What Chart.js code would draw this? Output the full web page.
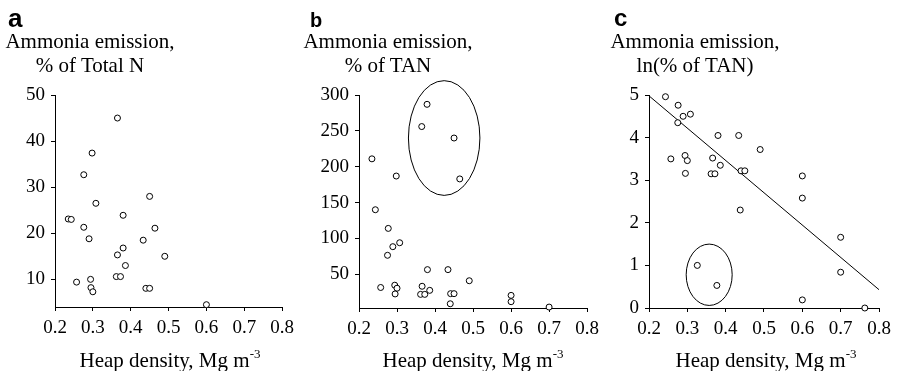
<!DOCTYPE html>
<html>
<head>
<meta charset="utf-8">
<script src="https://cdn.jsdelivr.net/npm/chart.js@4.4.0/dist/chart.umd.min.js"></script>
<style>
  body { margin: 0; background: #fff; }
  #wrap { position: relative; width: 898px; height: 371px; overflow: hidden; color: #000;
          font-family: 'Liberation Serif', 'Times New Roman', serif; }
  canvas { position: absolute; top: 0; }
  .letter { position: absolute; font-family: 'Liberation Sans', Arial, sans-serif; font-weight: bold; line-height: 1; }
  .ytitle { position: absolute; top: 29px; width: 220px; text-align: center; font-size: 21px; line-height: 24px; white-space: nowrap; }
  .xtitle { position: absolute; top: 350px; width: 260px; text-align: center; font-size: 21px; line-height: 20px; white-space: nowrap; }
  .xtitle span { font-size: 13px; vertical-align: 9px; line-height: 0; }
</style>
</head>
<body>
<div id="wrap">
  <canvas id="panelA" width="300" height="371" style="left:0px"></canvas>
  <canvas id="panelB" width="305" height="371" style="left:300px"></canvas>
  <canvas id="panelC" width="300" height="371" style="left:598px"></canvas>

  <div class="letter" style="left:8px; top:5px; font-size:26px">a</div>
  <div class="letter" style="left:310px; top:10px; font-size:20px">b</div>
  <div class="letter" style="left:614px; top:6px; font-size:24px">c</div>

  <div class="ytitle" style="left:-20px">Ammonia emission,<br>% of Total N</div>
  <div class="ytitle" style="left:278px">Ammonia emission,<br>% of TAN</div>
  <div class="ytitle" style="left:585px">Ammonia emission,<br>ln(% of TAN)</div>

  <div class="xtitle" style="left:40px">Heap density, Mg m<span>-3</span></div>
  <div class="xtitle" style="left:343px">Heap density, Mg m<span>-3</span></div>
  <div class="xtitle" style="left:636px">Heap density, Mg m<span>-3</span></div>
</div>
<script>
// heap density (Mg m-3) shared tick labels
const densityTicks = [0.2, 0.3, 0.4, 0.5, 0.6, 0.7, 0.8];

// a: % of total N
const densityA = [0.365, 0.298, 0.276, 0.450, 0.308, 0.235, 0.243, 0.380, 0.276, 0.464, 0.290, 0.433, 0.380,
                  0.365, 0.490, 0.386, 0.362, 0.373, 0.294, 0.257, 0.295, 0.300, 0.440, 0.450, 0.600];
const emissionA = [45.0, 37.4, 32.7, 28.0, 26.5, 23.1, 23.0, 23.9, 21.3, 21.1, 18.8, 18.5, 16.8,
                   15.3, 15.0, 13.0, 10.6, 10.6, 10.0, 9.4, 8.2, 7.3, 8.05, 8.05, 4.5];
const ticksA = [10, 20, 30, 40, 50];

// b: % of TAN
const densityB = [0.379, 0.365, 0.450, 0.234, 0.298, 0.465, 0.243, 0.277, 0.289, 0.307, 0.275, 0.380, 0.434, 0.490,
                  0.257, 0.294, 0.300, 0.295, 0.366, 0.362, 0.373, 0.386, 0.441, 0.450, 0.440, 0.600, 0.600, 0.700];
const emissionB = [287, 256, 240, 211, 187, 183, 140, 114, 88.5, 94, 76.5, 56.5, 56.5, 41,
                   31.6, 34.8, 30.6, 22.6, 33.3, 22, 22, 27.6, 23, 23, 8.9, 20.6, 11.8, 4.3];
const ticksB = [50, 100, 150, 200, 250, 300];
const ringB = { x: 0.424, y: 240, rx: 0.094, ry: 80 };

// c: ln(% of TAN) with fitted line
const densityC = [0.243, 0.276, 0.289, 0.308, 0.275, 0.380, 0.434, 0.490, 0.257, 0.294, 0.300, 0.366, 0.386, 0.295,
                  0.362, 0.372, 0.440, 0.450, 0.600, 0.600, 0.438, 0.700, 0.700, 0.326, 0.377, 0.600, 0.763];
const emissionC = [4.96, 4.76, 4.50, 4.55, 4.35, 4.05, 4.05, 3.72, 3.50, 3.58, 3.46, 3.52, 3.35, 3.16,
                   3.15, 3.15, 3.22, 3.22, 3.10, 2.58, 2.30, 1.66, 0.84, 1.00, 0.53, 0.19, 0.00];
const trendX = [0.2, 0.8];
const trendY = [4.98, 0.43];
const ticksC = [0, 1, 2, 3, 4, 5];
const ringC = { x: 0.357, y: 0.78, rx: 0.06, ry: 0.72 };

Chart.defaults.font.family = "'Liberation Serif', 'Times New Roman', serif";
Chart.defaults.color = '#000';

const toPoints = (xs, ys) => xs.map((x, i) => ({ x, y: ys[i] }));

// hand-drawn style ellipse round a group of points
const ringPlugin = {
    id: 'ringMark',
    afterDatasetsDraw(chart, args, options) {
        if (!options || options.x === undefined) return;
        const { ctx, scales: { x, y } } = chart;
        const cx = x.getPixelForValue(options.x);
        const cy = y.getPixelForValue(options.y);
        const rx = Math.abs(x.getPixelForValue(options.x + options.rx) - cx);
        const ry = Math.abs(y.getPixelForValue(options.y + options.ry) - cy);
        ctx.save();
        ctx.beginPath();
        ctx.ellipse(cx, cy, rx, ry, 0, 0, Math.PI * 2);
        ctx.strokeStyle = '#000';
        ctx.lineWidth = 1;
        ctx.stroke();
        ctx.restore();
    }
};

function scatterPanel(canvasId, cfg) {
    const datasets = [{
        data: toPoints(cfg.xs, cfg.ys),
        pointRadius: 3,
        pointBorderWidth: 1,
        pointBorderColor: '#000',
        pointBackgroundColor: '#fff',
        clip: false
    }];
    if (cfg.trend) {
        datasets.push({
            type: 'line',
            data: cfg.trend,
            borderColor: '#000',
            borderWidth: 1,
            pointRadius: 0,
            fill: false,
            clip: false
        });
    }

    return new Chart(document.getElementById(canvasId), {
        type: 'scatter',
        data: { datasets },
        options: {
            responsive: false,
            animation: false,
            layout: { padding: { left: 0, right: cfg.padRight, top: 95, bottom: 0 } },
            plugins: {
                legend: { display: false },
                tooltip: { enabled: false },
                ringMark: cfg.ring || false
            },
            scales: {
                x: {
                    type: 'linear',
                    min: 0.2,
                    max: 0.8,
                    afterBuildTicks: axis => { axis.ticks = densityTicks.map(v => ({ value: v })); },
                    afterFit: axis => { axis.height = cfg.xHeight; },
                    grid: { display: true, drawOnChartArea: false, drawTicks: true, tickLength: 4, color: '#000' },
                    border: { display: true, color: '#000', width: 1 },
                    ticks: { color: '#000', font: { size: 19 }, padding: 6, maxRotation: 0, callback: v => v.toFixed(1) }
                },
                y: {
                    type: 'linear',
                    min: cfg.yMin,
                    max: cfg.yMax,
                    afterBuildTicks: axis => { axis.ticks = cfg.yTicks.map(v => ({ value: v })); },
                    afterFit: axis => { axis.width = cfg.yWidth; },
                    grid: { display: true, drawOnChartArea: false, drawTicks: true, tickLength: 4, color: '#000' },
                    border: { display: true, color: '#000', width: 1 },
                    ticks: { color: '#000', font: { size: 19 }, padding: 6 }
                }
            }
        },
        plugins: [ringPlugin]
    });
}

scatterPanel('panelA', {
    xs: densityA, ys: emissionA, yMin: 4, yMax: 50, yTicks: ticksA,
    yWidth: 55, xHeight: 64, padRight: 15
});
scatterPanel('panelB', {
    xs: densityB, ys: emissionB, yMin: 3, yMax: 300, yTicks: ticksB,
    yWidth: 59, xHeight: 63, padRight: 16, ring: ringB
});
scatterPanel('panelC', {
    xs: densityC, ys: emissionC, yMin: 0, yMax: 5, yTicks: ticksC,
    yWidth: 51, xHeight: 63, padRight: 19, ring: ringC,
    trend: toPoints(trendX, trendY)
});
</script>
</body>
</html>
